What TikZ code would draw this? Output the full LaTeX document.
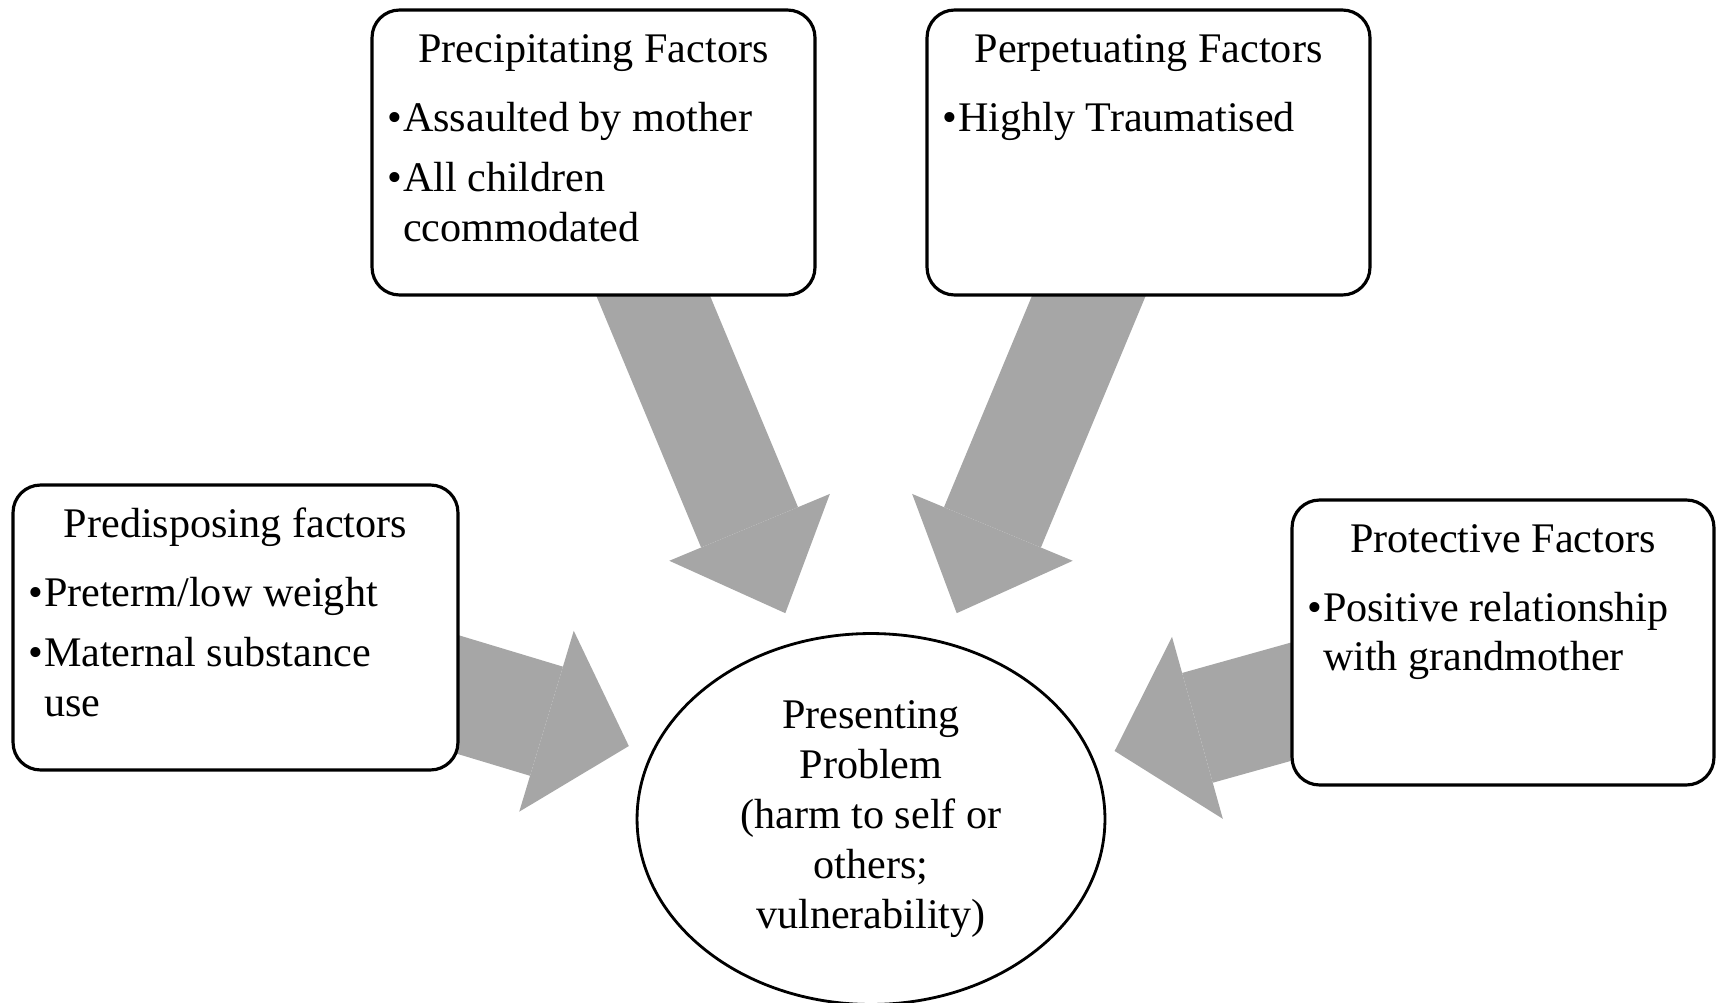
\documentclass[tikz,border=0pt]{standalone}
\usepackage{fontspec}
\setmainfont{Liberation Serif}
\usetikzlibrary{arrows.meta,shapes.geometric,backgrounds}
\definecolor{arrowgray}{HTML}{A6A6A6}

\tikzset{
  factorbox/.style={draw, line width=1.8pt, fill=white, rounded corners=0.55cm, inner sep=0pt},
  problem/.style={draw, ellipse, line width=1.6pt, fill=white, minimum width=9.36cm,
    minimum height=7.42cm, inner sep=0pt, align=center, font=\fontsize{24}{28.5}\selectfont},
  toparrow/.style={draw=arrowgray, line width=2.1cm, shorten >=4.46cm,
    -{Triangle[length=1.86cm, width=3.48cm, line width=0pt]}},
  sidearrow/.style={draw=arrowgray, line width=2.28cm, shorten >=5.06cm,
    -{Triangle[length=1.72cm, width=3.78cm, line width=0pt]}}
}

% box text: width, title, items
\newcommand{\factortext}[3]{%
  \begin{minipage}[c][5.7cm][t]{#1}
    \fontsize{24}{28}\selectfont
    {\centering\rule{0pt}{30pt}#2\par}
    \vspace{11pt}
    #3
  \end{minipage}}
\newcommand{\factoritem}[1]{%
  \hangindent=0.62cm\hangafter=1\noindent\hspace*{0.3cm}\makebox[0.32cm][l]{\textbullet}#1\par\vspace{6.5pt}}

\begin{document}
\begin{tikzpicture}[x=0.02cm, y=-0.02cm]
	\useasboundingbox (0,0) rectangle (1716,1003);

	% factor boxes
	\node[factorbox] (precip) at (593.5,152.5) {\factortext{8.86cm}{Precipitating Factors}{%
		\factoritem{Assaulted by mother}\factoritem{All children\\ccommodated}}};
	\node[factorbox] (perpet) at (1148.5,152.5) {\factortext{8.86cm}{Perpetuating Factors}{%
		\factoritem{Highly Traumatised}}};
	\node[factorbox] (predis) at (235.5,627.5) {\factortext{8.9cm}{Predisposing factors}{%
		\factoritem{Preterm/low weight}\factoritem{Maternal substance\\use}}};
	\node[factorbox] (protect) at (1503,642.5) {\factortext{8.44cm}{Protective Factors}{%
		\factoritem{Positive relationship\\with grandmother}}};

	% centre
	\node[problem] (present) at (871,819) {Presenting\\Problem\\(harm to self or\\others;\\vulnerability)};

	\begin{scope}[on background layer]
		\draw[toparrow] (precip.center) -- (present.center);
		\draw[toparrow] (perpet.center) -- (present.center);
		\draw[sidearrow] (predis.center) -- (present.center);
		\draw[sidearrow] (protect.center) -- (present.center);
	\end{scope}
\end{tikzpicture}
\end{document}
